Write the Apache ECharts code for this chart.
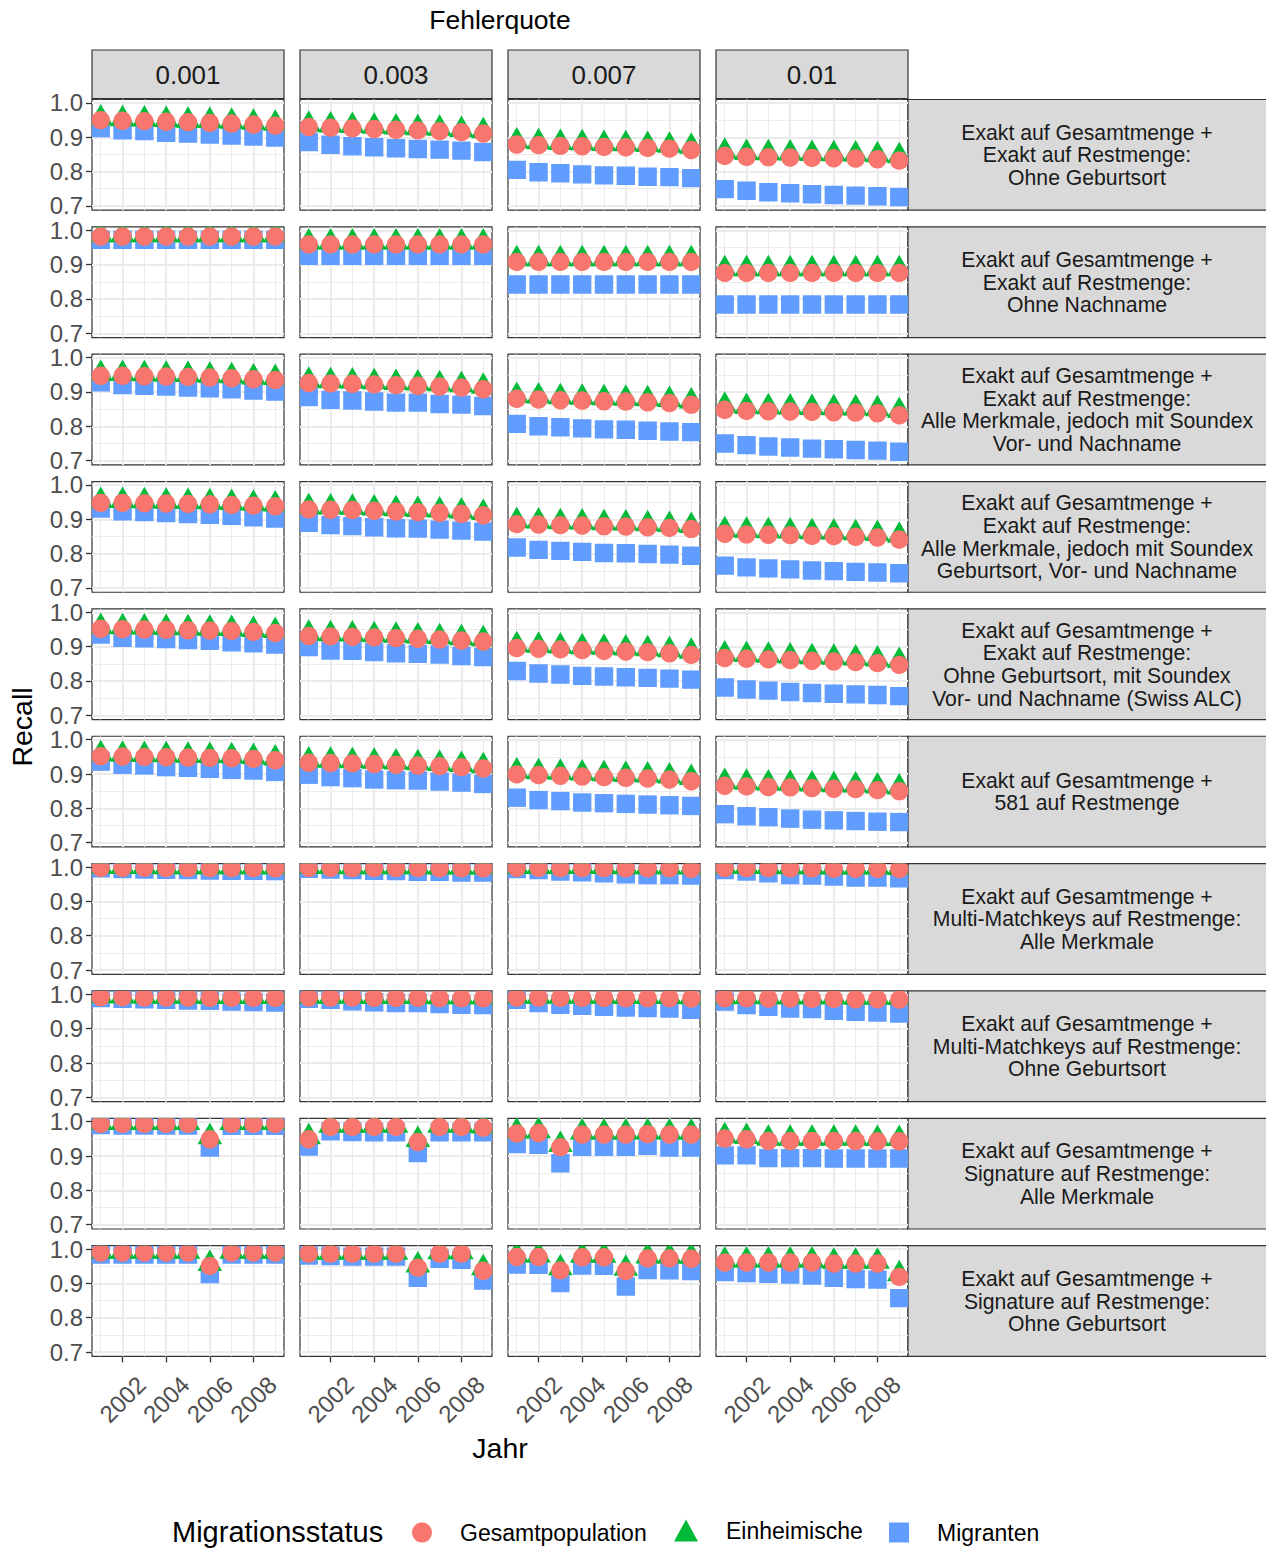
<!DOCTYPE html>
<html>
<head>
<meta charset="utf-8">
<script src="https://cdn.jsdelivr.net/npm/echarts@6/dist/echarts.min.js"></script>
<style>
  html, body { margin: 0; padding: 0; background: #fff; }
  #chart { width: 1266px; height: 1548px; }
</style>
</head>
<body>
<div id="chart"></div>
<script>
// Jahre und Achsenbeschriftungen
const years = [2001, 2002, 2003, 2004, 2005, 2006, 2007, 2008, 2009];
const yearTicks = [2002, 2004, 2006, 2008];
const yearMinor = [2001, 2003, 2005, 2007, 2009];
const recallTicks = [0.7, 0.8, 0.9, 1.0];
const recallMinor = [0.75, 0.85, 0.95];

const fehlerquoten = ['0.001', '0.003', '0.007', '0.01'];
const verfahren = [
  'Exakt auf Gesamtmenge +\nExakt auf Restmenge:\nOhne Geburtsort',
  'Exakt auf Gesamtmenge +\nExakt auf Restmenge:\nOhne Nachname',
  'Exakt auf Gesamtmenge +\nExakt auf Restmenge:\nAlle Merkmale, jedoch mit Soundex\nVor- und Nachname',
  'Exakt auf Gesamtmenge +\nExakt auf Restmenge:\nAlle Merkmale, jedoch mit Soundex\nGeburtsort, Vor- und Nachname',
  'Exakt auf Gesamtmenge +\nExakt auf Restmenge:\nOhne Geburtsort, mit Soundex\nVor- und Nachname (Swiss ALC)',
  'Exakt auf Gesamtmenge +\n581 auf Restmenge',
  'Exakt auf Gesamtmenge +\nMulti-Matchkeys auf Restmenge:\nAlle Merkmale',
  'Exakt auf Gesamtmenge +\nMulti-Matchkeys auf Restmenge:\nOhne Geburtsort',
  'Exakt auf Gesamtmenge +\nSignature auf Restmenge:\nAlle Merkmale',
  'Exakt auf Gesamtmenge +\nSignature auf Restmenge:\nOhne Geburtsort'
];

// Recall je Verfahren (Zeile) und Fehlerquote (Spalte), Jahre 2001-2009
const gesamt = [
  [[0.950, 0.948, 0.947, 0.945, 0.944, 0.942, 0.940, 0.937, 0.934],
   [0.930, 0.928, 0.926, 0.924, 0.922, 0.920, 0.918, 0.915, 0.911],
   [0.879, 0.877, 0.875, 0.874, 0.872, 0.871, 0.869, 0.867, 0.863],
   [0.846, 0.843, 0.842, 0.841, 0.840, 0.839, 0.838, 0.836, 0.832]],
  [[0.982, 0.982, 0.982, 0.982, 0.982, 0.982, 0.982, 0.982, 0.982],
   [0.959, 0.959, 0.959, 0.959, 0.959, 0.959, 0.959, 0.959, 0.959],
   [0.908, 0.908, 0.908, 0.908, 0.908, 0.908, 0.908, 0.908, 0.908],
   [0.876, 0.876, 0.876, 0.876, 0.876, 0.876, 0.876, 0.876, 0.876]],
  [[0.947, 0.947, 0.946, 0.945, 0.944, 0.942, 0.940, 0.937, 0.935],
   [0.926, 0.925, 0.924, 0.922, 0.920, 0.918, 0.916, 0.913, 0.908],
   [0.880, 0.878, 0.876, 0.875, 0.873, 0.872, 0.870, 0.868, 0.863],
   [0.848, 0.845, 0.844, 0.843, 0.842, 0.841, 0.840, 0.838, 0.832]],
  [[0.948, 0.948, 0.947, 0.946, 0.945, 0.944, 0.942, 0.940, 0.938],
   [0.929, 0.928, 0.927, 0.925, 0.923, 0.921, 0.919, 0.916, 0.912],
   [0.886, 0.885, 0.883, 0.882, 0.880, 0.879, 0.877, 0.875, 0.872],
   [0.858, 0.856, 0.855, 0.854, 0.852, 0.851, 0.849, 0.847, 0.841]],
  [[0.952, 0.951, 0.950, 0.949, 0.948, 0.947, 0.946, 0.943, 0.940],
   [0.931, 0.930, 0.929, 0.927, 0.925, 0.923, 0.921, 0.918, 0.915],
   [0.896, 0.894, 0.892, 0.890, 0.888, 0.886, 0.884, 0.881, 0.876],
   [0.867, 0.865, 0.863, 0.861, 0.859, 0.857, 0.855, 0.852, 0.847]],
  [[0.952, 0.951, 0.950, 0.949, 0.948, 0.947, 0.946, 0.944, 0.940],
   [0.933, 0.932, 0.931, 0.929, 0.927, 0.925, 0.923, 0.920, 0.916],
   [0.899, 0.897, 0.895, 0.893, 0.891, 0.889, 0.887, 0.884, 0.879],
   [0.866, 0.864, 0.862, 0.861, 0.859, 0.857, 0.856, 0.853, 0.850]],
  [[0.998, 0.998, 0.998, 0.997, 0.997, 0.997, 0.997, 0.997, 0.996],
   [0.998, 0.998, 0.997, 0.997, 0.997, 0.997, 0.996, 0.996, 0.996],
   [0.998, 0.998, 0.997, 0.997, 0.997, 0.996, 0.996, 0.996, 0.995],
   [0.997, 0.997, 0.997, 0.996, 0.996, 0.995, 0.995, 0.995, 0.994]],
  [[0.992, 0.992, 0.991, 0.991, 0.991, 0.990, 0.990, 0.990, 0.990],
   [0.991, 0.991, 0.991, 0.990, 0.990, 0.990, 0.989, 0.989, 0.989],
   [0.991, 0.991, 0.990, 0.990, 0.990, 0.989, 0.989, 0.989, 0.988],
   [0.989, 0.989, 0.988, 0.988, 0.987, 0.987, 0.986, 0.986, 0.985]],
  [[0.994, 0.994, 0.994, 0.994, 0.994, 0.949, 0.994, 0.994, 0.994],
   [0.949, 0.985, 0.985, 0.985, 0.985, 0.941, 0.985, 0.985, 0.983],
   [0.966, 0.967, 0.926, 0.963, 0.963, 0.963, 0.964, 0.963, 0.963],
   [0.951, 0.949, 0.944, 0.944, 0.944, 0.944, 0.944, 0.943, 0.943]],
  [[0.990, 0.990, 0.990, 0.990, 0.990, 0.951, 0.990, 0.990, 0.990],
   [0.987, 0.987, 0.987, 0.987, 0.987, 0.946, 0.987, 0.987, 0.937],
   [0.977, 0.977, 0.938, 0.976, 0.976, 0.936, 0.973, 0.973, 0.972],
   [0.961, 0.961, 0.961, 0.961, 0.961, 0.958, 0.958, 0.958, 0.919]]
];

const einheimische = [
  [[0.953, 0.951, 0.950, 0.949, 0.947, 0.946, 0.944, 0.941, 0.938],
   [0.935, 0.933, 0.931, 0.929, 0.927, 0.925, 0.923, 0.920, 0.916],
   [0.886, 0.884, 0.882, 0.881, 0.879, 0.878, 0.876, 0.874, 0.871],
   [0.856, 0.853, 0.852, 0.851, 0.850, 0.849, 0.848, 0.846, 0.843]],
  [[0.984, 0.984, 0.984, 0.984, 0.984, 0.984, 0.984, 0.984, 0.984],
   [0.963, 0.963, 0.963, 0.963, 0.963, 0.963, 0.963, 0.963, 0.963],
   [0.914, 0.914, 0.914, 0.914, 0.914, 0.914, 0.914, 0.914, 0.914],
   [0.885, 0.885, 0.885, 0.885, 0.885, 0.885, 0.885, 0.885, 0.885]],
  [[0.951, 0.951, 0.950, 0.949, 0.948, 0.946, 0.944, 0.941, 0.939],
   [0.931, 0.930, 0.929, 0.927, 0.925, 0.923, 0.921, 0.918, 0.914],
   [0.887, 0.885, 0.883, 0.882, 0.880, 0.879, 0.877, 0.875, 0.871],
   [0.858, 0.855, 0.854, 0.853, 0.852, 0.851, 0.850, 0.848, 0.843]],
  [[0.952, 0.952, 0.951, 0.950, 0.949, 0.948, 0.946, 0.944, 0.942],
   [0.934, 0.933, 0.932, 0.930, 0.928, 0.926, 0.924, 0.921, 0.917],
   [0.893, 0.892, 0.890, 0.889, 0.887, 0.886, 0.884, 0.882, 0.879],
   [0.867, 0.865, 0.864, 0.863, 0.861, 0.860, 0.858, 0.856, 0.851]],
  [[0.956, 0.955, 0.954, 0.953, 0.952, 0.951, 0.950, 0.947, 0.944],
   [0.936, 0.935, 0.934, 0.932, 0.930, 0.928, 0.926, 0.923, 0.920],
   [0.903, 0.901, 0.899, 0.897, 0.895, 0.893, 0.891, 0.888, 0.884],
   [0.876, 0.874, 0.872, 0.870, 0.868, 0.866, 0.864, 0.861, 0.857]],
  [[0.956, 0.955, 0.954, 0.953, 0.952, 0.951, 0.950, 0.948, 0.944],
   [0.938, 0.937, 0.936, 0.934, 0.932, 0.930, 0.928, 0.925, 0.921],
   [0.906, 0.904, 0.902, 0.900, 0.898, 0.896, 0.894, 0.891, 0.887],
   [0.875, 0.873, 0.871, 0.870, 0.868, 0.866, 0.865, 0.862, 0.859]],
  [[0.999, 0.999, 0.999, 0.998, 0.998, 0.998, 0.998, 0.998, 0.997],
   [0.999, 0.999, 0.998, 0.998, 0.998, 0.998, 0.997, 0.997, 0.997],
   [0.999, 0.999, 0.999, 0.999, 0.999, 0.998, 0.998, 0.998, 0.997],
   [0.999, 0.999, 0.999, 0.998, 0.998, 0.997, 0.997, 0.997, 0.996]],
  [[0.993, 0.993, 0.992, 0.992, 0.992, 0.991, 0.991, 0.991, 0.991],
   [0.992, 0.992, 0.992, 0.991, 0.991, 0.991, 0.990, 0.990, 0.990],
   [0.992, 0.992, 0.992, 0.992, 0.992, 0.991, 0.991, 0.991, 0.990],
   [0.990, 0.991, 0.990, 0.990, 0.990, 0.990, 0.989, 0.989, 0.988]],
  [[0.995, 0.995, 0.995, 0.995, 0.995, 0.953, 0.995, 0.995, 0.995],
   [0.953, 0.987, 0.987, 0.987, 0.987, 0.945, 0.987, 0.987, 0.985],
   [0.970, 0.971, 0.931, 0.967, 0.967, 0.967, 0.968, 0.967, 0.967],
   [0.956, 0.954, 0.949, 0.949, 0.949, 0.949, 0.949, 0.948, 0.948]],
  [[0.991, 0.991, 0.991, 0.991, 0.991, 0.955, 0.991, 0.991, 0.991],
   [0.988, 0.988, 0.988, 0.988, 0.988, 0.951, 0.989, 0.989, 0.943],
   [0.980, 0.980, 0.943, 0.979, 0.979, 0.941, 0.977, 0.977, 0.976],
   [0.965, 0.965, 0.965, 0.965, 0.965, 0.962, 0.962, 0.962, 0.925]]
];

const migranten = [
  [[0.927, 0.920, 0.918, 0.913, 0.911, 0.908, 0.905, 0.902, 0.899],
   [0.886, 0.878, 0.874, 0.871, 0.868, 0.866, 0.864, 0.861, 0.857],
   [0.805, 0.798, 0.795, 0.792, 0.789, 0.788, 0.785, 0.784, 0.781],
   [0.749, 0.744, 0.740, 0.737, 0.734, 0.732, 0.730, 0.728, 0.726]],
  [[0.972, 0.972, 0.972, 0.972, 0.972, 0.972, 0.972, 0.972, 0.972],
   [0.926, 0.926, 0.926, 0.926, 0.926, 0.926, 0.926, 0.926, 0.926],
   [0.842, 0.842, 0.842, 0.842, 0.842, 0.842, 0.842, 0.842, 0.842],
   [0.784, 0.784, 0.784, 0.784, 0.784, 0.784, 0.784, 0.784, 0.784]],
  [[0.928, 0.920, 0.918, 0.916, 0.913, 0.911, 0.908, 0.904, 0.901],
   [0.885, 0.877, 0.875, 0.872, 0.869, 0.869, 0.865, 0.863, 0.859],
   [0.807, 0.800, 0.797, 0.794, 0.791, 0.790, 0.787, 0.785, 0.783],
   [0.750, 0.745, 0.741, 0.738, 0.735, 0.733, 0.731, 0.729, 0.726]],
  [[0.931, 0.923, 0.921, 0.918, 0.915, 0.913, 0.910, 0.906, 0.902],
   [0.890, 0.883, 0.880, 0.877, 0.874, 0.873, 0.870, 0.867, 0.864],
   [0.818, 0.811, 0.808, 0.805, 0.802, 0.801, 0.799, 0.797, 0.794],
   [0.765, 0.760, 0.757, 0.754, 0.751, 0.749, 0.747, 0.745, 0.743]],
  [[0.935, 0.926, 0.924, 0.922, 0.919, 0.917, 0.913, 0.910, 0.906],
   [0.899, 0.889, 0.888, 0.884, 0.881, 0.879, 0.877, 0.873, 0.870],
   [0.829, 0.822, 0.819, 0.815, 0.813, 0.811, 0.809, 0.807, 0.804],
   [0.781, 0.775, 0.772, 0.768, 0.765, 0.763, 0.761, 0.759, 0.756]],
  [[0.936, 0.927, 0.925, 0.920, 0.918, 0.915, 0.912, 0.910, 0.906],
   [0.898, 0.891, 0.888, 0.884, 0.882, 0.881, 0.878, 0.875, 0.871],
   [0.831, 0.824, 0.821, 0.817, 0.815, 0.813, 0.811, 0.809, 0.807],
   [0.783, 0.777, 0.774, 0.770, 0.767, 0.765, 0.763, 0.761, 0.760]],
  [[0.996, 0.994, 0.993, 0.992, 0.991, 0.990, 0.989, 0.989, 0.988],
   [0.995, 0.993, 0.991, 0.989, 0.988, 0.986, 0.986, 0.984, 0.984],
   [0.994, 0.991, 0.987, 0.985, 0.982, 0.979, 0.977, 0.977, 0.975],
   [0.991, 0.987, 0.982, 0.977, 0.975, 0.972, 0.969, 0.969, 0.967]],
  [[0.989, 0.987, 0.986, 0.984, 0.982, 0.981, 0.979, 0.978, 0.976],
   [0.987, 0.984, 0.980, 0.977, 0.975, 0.975, 0.972, 0.970, 0.969],
   [0.984, 0.975, 0.970, 0.967, 0.964, 0.962, 0.960, 0.959, 0.955],
   [0.979, 0.969, 0.964, 0.959, 0.957, 0.952, 0.949, 0.947, 0.944]],
  [[0.990, 0.989, 0.989, 0.989, 0.989, 0.925, 0.988, 0.988, 0.988],
   [0.928, 0.972, 0.970, 0.969, 0.969, 0.909, 0.969, 0.969, 0.969],
   [0.935, 0.933, 0.879, 0.927, 0.927, 0.927, 0.930, 0.925, 0.925],
   [0.902, 0.902, 0.894, 0.894, 0.894, 0.893, 0.893, 0.893, 0.893]],
  [[0.984, 0.984, 0.984, 0.984, 0.984, 0.927, 0.984, 0.984, 0.984],
   [0.981, 0.980, 0.978, 0.978, 0.978, 0.916, 0.972, 0.969, 0.908],
   [0.955, 0.954, 0.901, 0.952, 0.951, 0.891, 0.939, 0.938, 0.936],
   [0.933, 0.930, 0.928, 0.926, 0.923, 0.916, 0.913, 0.911, 0.857]]
];

const FONT = 'Liberation Sans, Arial, Helvetica, sans-serif';
const RED = '#F8766D', GREEN = '#00BA38', BLUE = '#619CFF';

const PANEL_LEFT = 92, PANEL_W = 192, COL_STEP = 208;
const PANEL_TOP = 99.5, PANEL_H = 110.7, ROW_STEP = 127.35;
const STRIP_RIGHT_X = 908, STRIP_RIGHT_W = 360;

const nRows = verfahren.length, nCols = fehlerquoten.length;

// Punktformen wie bei ggplot (Kreis, Dreieck, Quadrat)
function circleItem(params, api) {
  const p = api.coord([api.value(0), api.value(1)]);
  return { type: 'circle', shape: { cx: p[0], cy: p[1], r: 9.2 }, style: { fill: RED } };
}
function triangleItem(params, api) {
  const p = api.coord([api.value(0), api.value(1)]);
  return {
    type: 'polygon',
    shape: { points: [[p[0], p[1] - 15], [p[0] + 12.3, p[1] + 6.5], [p[0] - 12.3, p[1] + 6.5]] },
    style: { fill: GREEN }
  };
}
function squareItem(params, api) {
  const p = api.coord([api.value(0), api.value(1)]);
  return { type: 'rect', shape: { x: p[0] - 9.2, y: p[1] - 9.2, width: 18.4, height: 18.4 }, style: { fill: BLUE } };
}

const grids = [], xAxes = [], yAxes = [], series = [], graphics = [];

const gridLines = [
  ...recallTicks.map(v => ({ yAxis: v, lineStyle: { width: 2 } })),
  ...recallMinor.map(v => ({ yAxis: v, lineStyle: { width: 1 } })),
  ...yearTicks.map(v => ({ xAxis: v, lineStyle: { width: 2 } })),
  ...yearMinor.map(v => ({ xAxis: v, lineStyle: { width: 1 } }))
];

for (let r = 0; r < nRows; r++) {
  for (let c = 0; c < nCols; c++) {
    const idx = r * nCols + c;
    const left = PANEL_LEFT + c * COL_STEP;
    const top = PANEL_TOP + r * ROW_STEP;
    grids.push({
      left: left, top: top, width: PANEL_W, height: PANEL_H,
      show: true, borderColor: '#333333', borderWidth: 1.2, backgroundColor: '#fff',
      containLabel: false, outerBoundsMode: 'none'
    });
    const bottomRow = r === nRows - 1, leftCol = c === 0;
    xAxes.push({
      type: 'value', gridIndex: idx, min: 2000.6, max: 2009.4,
      axisLine: { show: false }, splitLine: { show: false },
      axisTick: { show: bottomRow, customValues: yearTicks, length: 6, lineStyle: { color: '#333', width: 1.3 } },
      axisLabel: {
        show: bottomRow, customValues: yearTicks, rotate: 45, align: 'center', verticalAlign: 'middle',
        margin: 43, fontSize: 24, color: '#4D4D4D', fontFamily: FONT, formatter: v => String(v)
      }
    });
    yAxes.push({
      type: 'value', gridIndex: idx, min: 0.6875, max: 1.01,
      axisLine: { show: false }, splitLine: { show: false },
      axisTick: { show: leftCol, customValues: recallTicks, length: 6, lineStyle: { color: '#333', width: 1.3 } },
      axisLabel: {
        show: leftCol, customValues: recallTicks, margin: 9, fontSize: 24, color: '#4D4D4D', fontFamily: FONT,
        formatter: v => v.toFixed(1)
      }
    });
    const pts = arr => years.map((y, i) => [y, arr[r][c][i]]);
    series.push({
      type: 'line', xAxisIndex: idx, yAxisIndex: idx, data: [], silent: true, z: 1,
      markLine: {
        z: 1, silent: true, symbol: ['none', 'none'], label: { show: false }, animation: false,
        lineStyle: { color: '#EBEBEB', type: 'solid' }, emphasis: { disabled: true },
        data: gridLines
      }
    });
    series.push({
      name: 'Migranten', type: 'custom', xAxisIndex: idx, yAxisIndex: idx, clip: true, z: 3,
      itemStyle: { color: BLUE }, renderItem: squareItem, encode: { x: 0, y: 1 }, data: pts(migranten)
    });
    series.push({
      name: 'Einheimische', type: 'custom', xAxisIndex: idx, yAxisIndex: idx, clip: true, z: 3,
      itemStyle: { color: GREEN }, renderItem: triangleItem, encode: { x: 0, y: 1 }, data: pts(einheimische)
    });
    series.push({
      name: 'Gesamtpopulation', type: 'custom', xAxisIndex: idx, yAxisIndex: idx, clip: true, z: 3,
      itemStyle: { color: RED }, renderItem: circleItem, encode: { x: 0, y: 1 }, data: pts(gesamt)
    });
  }
}

// Streifen oben (Fehlerquote)
fehlerquoten.forEach((q, c) => {
  const left = PANEL_LEFT + c * COL_STEP;
  graphics.push({
    type: 'rect', shape: { x: left, y: 50, width: PANEL_W, height: 48.5 },
    style: { fill: '#D9D9D9', stroke: '#333333', lineWidth: 1.2 }
  });
  graphics.push({
    type: 'text', x: left + PANEL_W / 2, y: 74.5,
    style: { text: q, fill: '#1A1A1A', font: '26px ' + FONT, align: 'center', verticalAlign: 'middle' }
  });
});

// Streifen rechts (Verfahren)
verfahren.forEach((t, r) => {
  const top = PANEL_TOP + r * ROW_STEP;
  graphics.push({
    type: 'rect', shape: { x: STRIP_RIGHT_X, y: top, width: STRIP_RIGHT_W, height: PANEL_H },
    style: { fill: '#D9D9D9', stroke: '#333333', lineWidth: 1.2 }
  });
  graphics.push({
    type: 'text', x: STRIP_RIGHT_X + 179, y: top + PANEL_H / 2,
    style: { text: t, fill: '#1A1A1A', font: '21.2px ' + FONT, lineHeight: 22.7, align: 'center', verticalAlign: 'middle' }
  });
});

// Titel
graphics.push({
  type: 'text', x: 500, y: 20,
  style: { text: 'Fehlerquote', fill: '#000', font: '26.5px ' + FONT, align: 'center', verticalAlign: 'middle' }
});
graphics.push({
  type: 'text', x: 500, y: 1448,
  style: { text: 'Jahr', fill: '#000', font: '28.5px ' + FONT, align: 'center', verticalAlign: 'middle' }
});
graphics.push({
  type: 'text', x: 22, y: 727, rotation: Math.PI / 2,
  style: { text: 'Recall', fill: '#000', font: '28.5px ' + FONT, align: 'center', verticalAlign: 'middle' }
});
graphics.push({
  type: 'text', x: 172, y: 1532,
  style: { text: 'Migrationsstatus', fill: '#000', font: '29px ' + FONT, align: 'left', verticalAlign: 'middle' }
});

const legendText = { fontSize: 23, color: '#000', fontFamily: FONT, padding: [0, 0, 0, 23] };

const chart = echarts.init(document.getElementById('chart'), null, { renderer: 'svg' });
chart.setOption({
  animation: false,
  backgroundColor: '#fff',
  grid: grids,
  xAxis: xAxes,
  yAxis: yAxes,
  legend: [
    { left: 412, top: 1521, padding: 0, itemWidth: 20, itemHeight: 20, textStyle: legendText,
      data: [{ name: 'Gesamtpopulation', icon: 'circle' }] },
    { left: 674, top: 1519, padding: 0, itemWidth: 24, itemHeight: 22, textStyle: legendText,
      data: [{ name: 'Einheimische', icon: 'triangle' }] },
    { left: 889, top: 1521, padding: 0, itemWidth: 20, itemHeight: 20, textStyle: legendText,
      data: [{ name: 'Migranten', icon: 'rect' }] }
  ],
  graphic: graphics,
  series: series
});
</script>
</body>
</html>
